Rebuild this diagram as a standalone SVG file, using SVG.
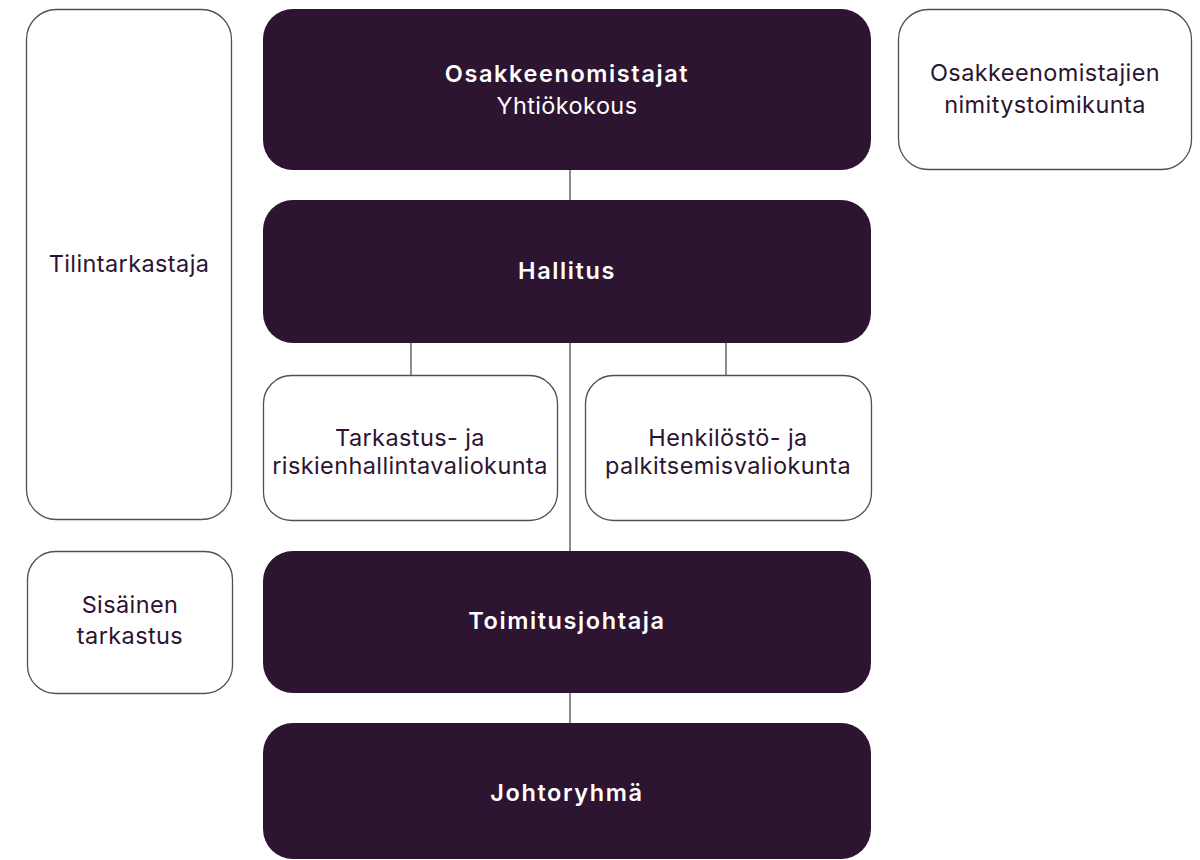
<svg xmlns="http://www.w3.org/2000/svg" width="1200" height="860" viewBox="0 0 1200 860">
<style>
.dark{fill:#2d1430}
.light{fill:#ffffff;stroke:#5a4a5c;stroke-width:1.3}
.t{font-family:Inter,"Noto Sans",sans-serif;font-size:23.5px;letter-spacing:0.4px;text-anchor:middle}
.w{fill:#ffffff}
.d{fill:#2d1430}
.b{font-weight:600;letter-spacing:1.6px}
.c{stroke:#5a4a5c;stroke-width:1.3;fill:none}
</style>
<rect width="1200" height="860" fill="#ffffff"/>
<g id="connectors">
<line class="c" x1="570" y1="170" x2="570" y2="200"/>
<line class="c" x1="570" y1="343" x2="570" y2="551"/>
<line class="c" x1="570" y1="693" x2="570" y2="723"/>
<line class="c" x1="411" y1="343" x2="411" y2="375"/>
<line class="c" x1="726" y1="343" x2="726" y2="375"/>
</g>
<g id="tilintarkastaja">
<rect class="light" x="26.5" y="9.5" width="205" height="510" rx="30"/>
<text class="t d" x="129" y="272">Tilintarkastaja</text>
</g>
<g id="osakkeenomistajat">
<rect class="dark" x="263" y="9" width="608" height="161" rx="30"/>
<text class="t w b" x="567" y="82">Osakkeenomistajat</text>
<text class="t w" x="567" y="114">Yhtiökokous</text>
</g>
<g id="nimitystoimikunta">
<rect class="light" x="898.5" y="9.5" width="293" height="160" rx="30"/>
<text class="t d" x="1045" y="81">Osakkeenomistajien</text>
<text class="t d" x="1045" y="113">nimitystoimikunta</text>
</g>
<g id="hallitus">
<rect class="dark" x="263" y="200" width="608" height="143" rx="30"/>
<text class="t w b" x="567" y="279">Hallitus</text>
</g>
<g id="tarkastusvaliokunta">
<rect class="light" x="263.5" y="375.5" width="294" height="145" rx="28"/>
<text class="t d" x="410" y="446">Tarkastus- ja</text>
<text class="t d" x="410" y="474">riskienhallintavaliokunta</text>
</g>
<g id="henkilostovaliokunta">
<rect class="light" x="585.5" y="375.5" width="286" height="145" rx="28"/>
<text class="t d" x="728" y="446">Henkilöstö- ja</text>
<text class="t d" x="728" y="474">palkitsemisvaliokunta</text>
</g>
<g id="sisainen">
<rect class="light" x="27.5" y="551.5" width="205" height="142" rx="28"/>
<text class="t d" x="130" y="613">Sisäinen</text>
<text class="t d" x="130" y="644">tarkastus</text>
</g>
<g id="toimitusjohtaja">
<rect class="dark" x="263" y="551" width="608" height="142" rx="30"/>
<text class="t w b" x="567" y="629">Toimitusjohtaja</text>
</g>
<g id="johtoryhma">
<rect class="dark" x="263" y="723" width="608" height="136" rx="30"/>
<text class="t w b" x="567" y="801">Johtoryhmä</text>
</g>
</svg>
